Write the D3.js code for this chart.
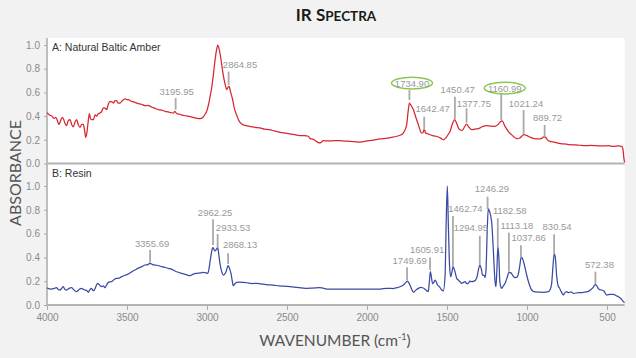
<!DOCTYPE html>
<html><head><meta charset="utf-8">
<script src="https://cdn.jsdelivr.net/npm/d3@7"></script>
<style>html,body{margin:0;padding:0;background:#f2f2f2;}svg{display:block;}</style>
</head><body>
<svg id="chart" width="636" height="358"></svg>
<script>
// ---------------- DATA ----------------
const chartTitle = ["IR S", "PECTRA"];
const xTicks = [4000, 3500, 3000, 2500, 2000, 1500, 1000, 500];
const yTicks = [0, 0.2, 0.4, 0.6, 0.8, 1.0];
const panelLabels = ["A: Natural Baltic Amber", "B: Resin"];

const amberWn = [4000,3985,3970,3955,3945,3935,3925,3915,3905,3898,3888,3877,3868,3856,3846,3835,3825,3815,3805,3794,3783,3773,3765,3758,3752,3742,3735,3728,3720,3710,3700,3690,3680,3669,3658,3648,3637,3627,3617,3606,3595,3585,3575,3565,3555,3544,3530,3512,3500,3490,3481,3470,3450,3430,3410,3387,3370,3346,3325,3304,3285,3262,3242,3225,3210,3200,3190,3179,3160,3137,3120,3096,3075,3060,3044,3025,3010,3002,2990,2980,2971,2960,2950,2940,2933,2925,2915,2908,2895,2885,2877,2868,2862,2852,2840,2830,2815,2800,2783,2762,2740,2720,2700,2669,2640,2610,2580,2544,2500,2460,2419,2390,2367,2355,2346,2330,2310,2294,2285,2273,2240,2200,2169,2120,2080,2044,2000,1960,1919,1870,1840,1814,1790,1773,1760,1752,1742,1735,1725,1710,1695,1679,1668,1658,1650,1642,1635,1617,1590,1554,1535,1523,1505,1490,1481,1465,1452,1440,1425,1419,1405,1390,1378,1365,1346,1325,1304,1280,1252,1225,1200,1180,1165,1155,1140,1117,1090,1065,1045,1030,1020,1000,981,955,929,910,895,885,870,856,830,800,773,740,700,669,640,600,565,530,490,460,430,408,400,395,390];
const amberAbs = [.43,.41,.40,.38,.39,.36,.33,.36,.39,.38,.34,.32,.36,.37,.33,.31,.35,.37,.33,.305,.33,.33,.28,.22,.25,.36,.42,.38,.37,.37,.41,.40,.42,.426,.44,.47,.468,.454,.50,.525,.52,.51,.53,.53,.51,.51,.53,.545,.54,.54,.53,.525,.516,.505,.50,.488,.49,.477,.465,.454,.45,.44,.435,.43,.426,.44,.42,.418,.41,.403,.40,.392,.385,.38,.378,.39,.42,.44,.50,.57,.637,.75,.87,.96,1.0,.97,.90,.834,.72,.66,.623,.645,.65,.60,.54,.47,.41,.36,.333,.322,.315,.31,.305,.30,.29,.285,.275,.263,.255,.245,.235,.235,.23,.21,.207,.20,.18,.173,.18,.192,.19,.192,.192,.188,.185,.181,.19,.198,.207,.215,.222,.23,.24,.257,.29,.328,.45,.51,.49,.454,.39,.328,.28,.257,.26,.29,.26,.249,.235,.224,.21,.20,.22,.25,.27,.34,.37,.34,.29,.285,.28,.31,.333,.31,.285,.29,.294,.31,.32,.315,.314,.33,.355,.36,.32,.272,.235,.21,.215,.235,.243,.235,.222,.21,.207,.21,.225,.222,.195,.187,.18,.17,.165,.16,.157,.154,.15,.152,.15,.148,.15,.145,.148,.145,.12,.05,.01];

const resinWn = [4000,3985,3971,3955,3940,3930,3919,3908,3898,3888,3877,3862,3846,3830,3815,3800,3783,3772,3762,3750,3742,3732,3721,3712,3704,3693,3683,3670,3658,3648,3637,3627,3617,3605,3596,3580,3565,3550,3533,3512,3492,3470,3450,3430,3408,3387,3370,3356,3340,3325,3300,3283,3260,3242,3220,3200,3180,3158,3130,3106,3085,3065,3040,3023,3005,2996,2988,2981,2972,2964,2957,2950,2940,2933,2926,2919,2908,2898,2890,2881,2872,2867,2858,2850,2842,2836,2828,2815,2800,2773,2750,2720,2689,2650,2620,2586,2550,2520,2481,2440,2400,2377,2340,2294,2270,2252,2200,2127,2060,2002,1960,1919,1900,1877,1860,1840,1814,1790,1773,1760,1749,1740,1727,1718,1710,1695,1679,1665,1652,1635,1617,1610,1604,1597,1590,1582,1575,1569,1560,1548,1535,1523,1512,1505,1498,1492,1484,1477,1470,1462,1450,1438,1429,1418,1408,1398,1387,1377,1367,1357,1346,1330,1315,1303,1295,1285,1278,1269,1262,1256,1248,1242,1235,1221,1210,1200,1194,1188,1182,1176,1170,1163,1158,1148,1137,1122,1113,1100,1085,1075,1060,1045,1037,1029,1015,1002,985,971,950,920,898,870,855,846,838,830,823,815,805,798,785,773,765,752,740,725,710,680,648,620,600,585,575,565,555,545,533,518,502,480,460,445,429,410,398,390];
const resinAbs = [.145,.135,.134,.14,.145,.13,.126,.14,.154,.13,.126,.14,.145,.125,.112,.13,.14,.13,.126,.12,.107,.13,.14,.12,.126,.16,.182,.165,.154,.16,.145,.17,.19,.195,.196,.215,.224,.225,.238,.25,.26,.28,.294,.31,.322,.336,.34,.35,.34,.336,.33,.322,.315,.308,.30,.286,.275,.266,.255,.246,.26,.266,.27,.275,.27,.266,.30,.364,.44,.482,.47,.454,.47,.482,.42,.35,.28,.252,.26,.28,.32,.33,.30,.266,.20,.162,.175,.19,.192,.19,.187,.18,.182,.175,.17,.168,.16,.158,.154,.148,.142,.14,.142,.145,.14,.134,.134,.134,.134,.134,.134,.134,.138,.14,.14,.138,.145,.155,.168,.185,.20,.19,.154,.125,.107,.125,.14,.148,.145,.13,.112,.2,.28,.23,.18,.19,.21,.20,.17,.154,.13,.118,.25,.7,1.0,.7,.33,.238,.27,.322,.28,.22,.21,.195,.182,.19,.196,.18,.182,.2,.196,.2,.224,.3,.336,.3,.25,.252,.23,.3,.65,.81,.79,.70,.45,.2,.154,.3,.49,.40,.2,.15,.14,.16,.182,.24,.275,.27,.24,.23,.238,.33,.40,.392,.33,.252,.17,.126,.11,.108,.107,.11,.13,.18,.32,.43,.40,.25,.16,.145,.11,.084,.1,.112,.104,.11,.098,.103,.107,.113,.13,.15,.172,.165,.14,.128,.126,.115,.084,.09,.09,.08,.07,.05,.028,.02];

const amberPeaks = ["3195.95","2864.85","1734.90","1642.47","1450.47","1377.75","1160.99","1021.24","889.72"];
const resinPeaks = ["3355.69","2962.25","2933.53","2868.13","1749.69","1605.91","1462.74","1294.95","1246.29","1182.58","1113.18","1037.86","830.54","572.38"];
const circledPeaks = ["1734.90","1160.99"];

// ---------------- LAYOUT (annotation placement, in absorbance units) ----------------
// [textBaseline, lineTop, lineBottom, textDx(px)]
const amberLayout = [[.581,.553,.454,1],[.806,.775,.662,11.4],[.648,.62,.536,2.6],[.432,.395,.283,8.5],[.595,.564,.373,2.8],[.479,.466,.344,7.4],[.606,.586,.367,3.5],[.479,.451,.249,2.4],[.361,.325,.226,2.9]];
const resinLayout = [[.49,.462,.355,2],[.75,.72,.504,2],[.624,.597,.485,15.4],[.479,.434,.345,12],[.345,.317,.21,2.7],[.437,.40,.294,-3],[.784,.748,.322,12.5],[.619,.582,.336,-9],[.947,.91,.804,4.4],[.765,.729,.485,12],[.639,.608,.28,8],[.54,.502,.40,7.7],[.63,.594,.429,3],[.31,.28,.176,4]];

// ---------------- DRAW ----------------
const svg = d3.select("#chart");
const L = 47, R = 624.6;
const x = d3.scaleLinear().domain([4000, 390]).range([L, R]);
const yA = d3.scaleLinear().domain([0, 1]).range([163.5, 45]);
const yB = d3.scaleLinear().domain([0, 1]).range([305, 186]);
const sans = "'Liberation Sans', Arial, Helvetica, sans-serif";
const heading = "Lato, 'Open Sans', sans-serif";

svg.append("rect").attr("width", 636).attr("height", 358).attr("fill", "#f2f2f2");
svg.append("rect").attr("x", L).attr("y", 38).attr("width", R - L).attr("height", 305 - 38).attr("fill", "#ffffff");

// title
const t = svg.append("text").attr("x", 336).attr("y", 21).attr("text-anchor", "middle")
  .attr("font-family", heading).attr("font-weight", 700).attr("fill", "#1a1a1a");
t.append("tspan").attr("font-size", 17).text(chartTitle[0]);
t.append("tspan").attr("font-size", 13.5).text(chartTitle[1]);

// y axes
function yAxis(scale) {
  const g = svg.append("g").attr("transform", `translate(${L},0)`)
    .call(d3.axisLeft(scale).tickValues(yTicks).tickFormat(d3.format(".1f")).tickSize(3).tickPadding(4));
  g.select(".domain").remove();
  g.selectAll("line").attr("stroke", "#aaa");
  g.selectAll("text").attr("font-family", sans).attr("font-size", 10).attr("fill", "#8a8a8a");
}
yAxis(yA); yAxis(yB);

// x axis
const gx = svg.append("g").attr("transform", `translate(0,305)`)
  .call(d3.axisBottom(x).tickValues(xTicks).tickFormat(d3.format("d")).tickSize(5).tickPadding(4));
gx.select(".domain").remove();
gx.selectAll("line").attr("stroke", "#aaa");
gx.selectAll("text").attr("font-family", sans).attr("font-size", 10).attr("fill", "#8a8a8a");

// frame lines
svg.append("line").attr("x1", L).attr("x2", L).attr("y1", 38).attr("y2", 305).attr("stroke", "#aaa").attr("stroke-width", 1.5);
svg.append("line").attr("x1", L).attr("x2", R).attr("y1", yA(0)).attr("y2", yA(0)).attr("stroke", "#b3b3b3").attr("stroke-width", 2);
svg.append("line").attr("x1", L).attr("x2", R).attr("y1", yB(0)).attr("y2", yB(0)).attr("stroke", "#b3b3b3").attr("stroke-width", 2);

// axis titles
const xt = svg.append("text").attr("x", 335).attr("y", 346).attr("text-anchor", "middle")
  .attr("font-family", heading).attr("font-size", 15.5).attr("fill", "#555");
xt.append("tspan").text("WAVENUMBER (cm");
xt.append("tspan").attr("font-size", 9).attr("dy", -6).text("-1");
xt.append("tspan").attr("dy", 6).text(")");
svg.append("text").attr("transform", "translate(21,173) rotate(-90)").attr("text-anchor", "middle")
  .attr("font-family", heading).attr("font-size", 16).attr("fill", "#555").text("ABSORBANCE");

// panel labels
svg.append("text").attr("x", 52).attr("y", 50.5).attr("font-family", sans).attr("font-size", 10.5).attr("fill", "#333").text(panelLabels[0]);
svg.append("text").attr("x", 52).attr("y", 177).attr("font-family", sans).attr("font-size", 10.5).attr("fill", "#333").text(panelLabels[1]);

// spectra
function spectrum(wn, ab, y, color) {
  const line = d3.line().x((d, i) => x(wn[i])).y((d, i) => y(ab[i])).curve(d3.curveMonotoneX);
  svg.append("path").datum(ab).attr("d", line).attr("fill", "none").attr("stroke", color).attr("stroke-width", 1.25);
}
spectrum(amberWn, amberAbs, yA, "#d7262f");
spectrum(resinWn, resinAbs, yB, "#3b4aa3");

// annotations
function annotate(peaks, layout, y) {
  peaks.forEach((p, i) => {
    const [tb, lt, lb, dx] = layout[i];
    const px = x(+p);
    svg.append("line").attr("x1", px).attr("x2", px).attr("y1", y(lt)).attr("y2", y(lb))
      .attr("stroke", "#aaa").attr("stroke-width", 1.8);
    const tx = px + dx;
    if (circledPeaks.includes(p)) {
      svg.append("ellipse").attr("cx", tx).attr("cy", y(tb) - 3.6).attr("rx", 20.5).attr("ry", 5.8)
        .attr("fill", "none").attr("stroke", "#8cc653").attr("stroke-width", 1.5);
    }
    svg.append("text").attr("x", tx).attr("y", y(tb)).attr("text-anchor", "middle")
      .attr("font-family", sans).attr("font-size", 9.5).attr("fill", "#999").text(p);
  });
}
annotate(amberPeaks, amberLayout, yA);
annotate(resinPeaks, resinLayout, yB);
</script>
</body></html>
